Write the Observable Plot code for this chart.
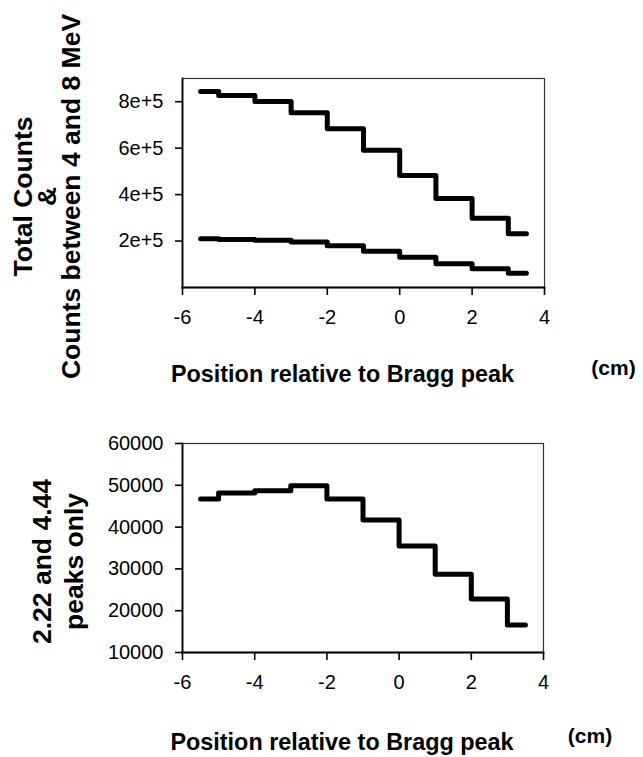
<!DOCTYPE html>
<html><head><meta charset="utf-8">
<script src="https://cdn.jsdelivr.net/npm/d3@7"></script>
<script src="https://cdn.jsdelivr.net/npm/@observablehq/plot@0.6"></script>
<style>
body{margin:0;background:#fff;}
#chart{width:643px;height:757px;overflow:hidden;}
#chart svg{display:block;}
</style></head><body><div id="chart"></div>
<script>
// ---- data ----
const positions = [-5.5, -4.5, -3.5, -2.5, -1.5, -0.5, 0.5, 1.5, 2.5, 3.5];
const totalCounts = [844000, 827000, 801000, 752000, 684000, 591000, 482000, 383000, 298000, 231000];
const counts4to8 = [210000, 207000, 203000, 196000, 180000, 156000, 130000, 102000, 81000, 61000];
const peaks222and444 = [46700, 48150, 48700, 49900, 46700, 41700, 35460, 28700, 22770, 16590];
const xTicks = [-6, -4, -2, 0, 2, 4];
const yTicksTop = [200000, 400000, 600000, 800000];
const yTicksBottom = [10000, 20000, 30000, 40000, 50000, 60000];
const xTitle = "Position relative to Bragg peak";
const xUnit = "(cm)";
const yTitleTop = "Total Counts\n&\nCounts between 4 and 8 MeV";
const yTitleBottom = "2.22 and 4.44\npeaks only";

const topData = [
  ...positions.map((x, i) => ({x, y: totalCounts[i], series: "Total counts"})),
  ...positions.map((x, i) => ({x, y: counts4to8[i], series: "Counts 4-8 MeV"}))
];
const bottomData = positions.map((x, i) => ({x, y: peaks222and444[i]}));

const font = "'Liberation Sans', Arial, Helvetica, sans-serif";
const baseStyle = {fontFamily: font, fontSize: "20px", color: "#000", background: "#fff", overflow: "visible"};

const frameMarks = () => [
  Plot.frame({stroke: "#333", strokeWidth: 1.2}),
  Plot.frame({anchor: "left", stroke: "#000", strokeWidth: 1.8}),
  Plot.frame({anchor: "bottom", stroke: "#000", strokeWidth: 1.8})
];

const p1 = Plot.plot({
  width: 643, height: 400,
  marginLeft: 182, marginRight: 99, marginTop: 78, marginBottom: 113,
  style: baseStyle,
  x: {domain: [-6, 4]},
  y: {domain: [0, 900000]},
  marks: [
    Plot.axisX({ticks: xTicks, tickSize: 8, tickPadding: 14, tickFormat: d => String(d), label: null, strokeWidth: 1.6, fontSize: 20}),
    Plot.axisY({ticks: yTicksTop, tickSize: 7, tickPadding: 12, tickFormat: d => `${d / 1e5}e+5`, label: null, strokeWidth: 1.6, fontSize: 20}),
    ...frameMarks(),
    Plot.line(topData, {x: "x", y: "y", z: "series", curve: "step", stroke: "#000", strokeWidth: 5}),
    Plot.text([yTitleTop], {text: d => d, frameAnchor: "left", rotate: -90, dx: -134, dy: 13.5, fontSize: 26.5, fontWeight: "bold", lineHeight: 0.9, textAnchor: "middle", fill: "#000"}),
    Plot.text([xTitle], {text: d => d, frameAnchor: "bottom", lineAnchor: "bottom", dx: -21, dy: 94, fontSize: 23.4, fontWeight: "bold", fill: "#000"}),
    Plot.text([xUnit], {text: d => d, frameAnchor: "bottom", lineAnchor: "bottom", dx: 250, dy: 87, fontSize: 21, fontWeight: "bold", fill: "#000"})
  ]
});

const p2 = Plot.plot({
  width: 643, height: 357,
  marginLeft: 182, marginRight: 100, marginTop: 43, marginBottom: 105,
  style: baseStyle,
  x: {domain: [-6, 4]},
  y: {domain: [10000, 60000]},
  marks: [
    Plot.axisX({ticks: xTicks, tickSize: 8, tickPadding: 14, tickFormat: d => String(d), label: null, strokeWidth: 1.6, fontSize: 20}),
    Plot.axisY({ticks: yTicksBottom, tickSize: 7, tickPadding: 12, tickFormat: d => String(d), label: null, strokeWidth: 1.6, fontSize: 20}),
    ...frameMarks(),
    Plot.line(bottomData, {x: "x", y: "y", curve: "step", stroke: "#000", strokeWidth: 5}),
    Plot.text([yTitleBottom], {text: d => d, frameAnchor: "left", rotate: -90, dx: -126, dy: 13.5, fontSize: 26.5, fontWeight: "bold", lineHeight: 1.21, textAnchor: "middle", fill: "#000"}),
    Plot.text([xTitle], {text: d => d, frameAnchor: "bottom", lineAnchor: "bottom", dx: -21, dy: 97, fontSize: 23.4, fontWeight: "bold", fill: "#000"}),
    Plot.text([xUnit], {text: d => d, frameAnchor: "bottom", lineAnchor: "bottom", dx: 227, dy: 90, fontSize: 21, fontWeight: "bold", fill: "#000"})
  ]
});

const chart = document.getElementById("chart");
chart.appendChild(p1);
chart.appendChild(p2);
</script>
</body></html>
